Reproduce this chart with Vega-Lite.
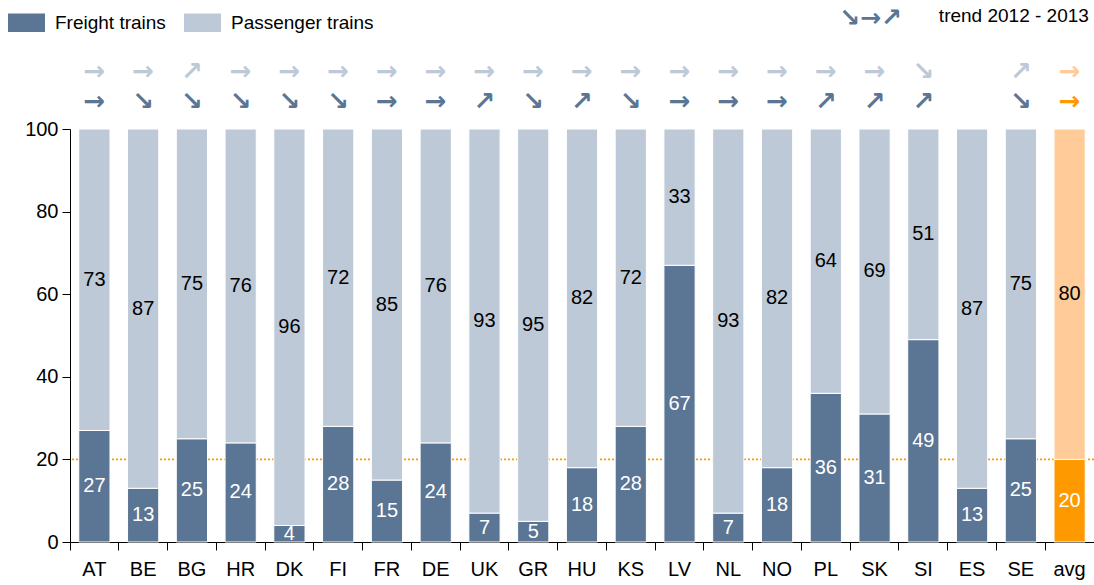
{
  "$schema": "https://vega.github.io/schema/vega-lite/v6.json",
  "width": 1024,
  "height": 413,
  "autosize": {"type": "none"},
  "padding": {"left": 70, "top": 129, "right": 0, "bottom": 43},
  "background": "white",
  "config": {
    "view": {"stroke": null},
    "font": "Liberation Sans",
    "scale": {"bandPaddingInner": 0, "bandPaddingOuter": 0},
    "axis": {"labelFont": "Liberation Sans", "labelFontSize": 20, "labelColor": "#000", "domainColor": "#000", "tickColor": "#000", "tickSize": 8, "grid": false},
    "axisX": {"bandPosition": 0, "labelAngle": 0, "labelPadding": 9},
    "axisY": {"labelPadding": 4}
  },
  "datasets": {
    "shares": [
      {"country": "AT", "type": "Freight", "series": "Freight trains", "share": 27, "trend": "→"},
      {"country": "AT", "type": "Passenger", "series": "Passenger trains", "share": 73, "trend": "→"},
      {"country": "BE", "type": "Freight", "series": "Freight trains", "share": 13, "trend": "↘"},
      {"country": "BE", "type": "Passenger", "series": "Passenger trains", "share": 87, "trend": "→"},
      {"country": "BG", "type": "Freight", "series": "Freight trains", "share": 25, "trend": "↘"},
      {"country": "BG", "type": "Passenger", "series": "Passenger trains", "share": 75, "trend": "↗"},
      {"country": "HR", "type": "Freight", "series": "Freight trains", "share": 24, "trend": "↘"},
      {"country": "HR", "type": "Passenger", "series": "Passenger trains", "share": 76, "trend": "→"},
      {"country": "DK", "type": "Freight", "series": "Freight trains", "share": 4, "trend": "↘"},
      {"country": "DK", "type": "Passenger", "series": "Passenger trains", "share": 96, "trend": "→"},
      {"country": "FI", "type": "Freight", "series": "Freight trains", "share": 28, "trend": "↘"},
      {"country": "FI", "type": "Passenger", "series": "Passenger trains", "share": 72, "trend": "→"},
      {"country": "FR", "type": "Freight", "series": "Freight trains", "share": 15, "trend": "→"},
      {"country": "FR", "type": "Passenger", "series": "Passenger trains", "share": 85, "trend": "→"},
      {"country": "DE", "type": "Freight", "series": "Freight trains", "share": 24, "trend": "→"},
      {"country": "DE", "type": "Passenger", "series": "Passenger trains", "share": 76, "trend": "→"},
      {"country": "UK", "type": "Freight", "series": "Freight trains", "share": 7, "trend": "↗"},
      {"country": "UK", "type": "Passenger", "series": "Passenger trains", "share": 93, "trend": "→"},
      {"country": "GR", "type": "Freight", "series": "Freight trains", "share": 5, "trend": "↘"},
      {"country": "GR", "type": "Passenger", "series": "Passenger trains", "share": 95, "trend": "→"},
      {"country": "HU", "type": "Freight", "series": "Freight trains", "share": 18, "trend": "↗"},
      {"country": "HU", "type": "Passenger", "series": "Passenger trains", "share": 82, "trend": "→"},
      {"country": "KS", "type": "Freight", "series": "Freight trains", "share": 28, "trend": "↘"},
      {"country": "KS", "type": "Passenger", "series": "Passenger trains", "share": 72, "trend": "→"},
      {"country": "LV", "type": "Freight", "series": "Freight trains", "share": 67, "trend": "→"},
      {"country": "LV", "type": "Passenger", "series": "Passenger trains", "share": 33, "trend": "→"},
      {"country": "NL", "type": "Freight", "series": "Freight trains", "share": 7, "trend": "→"},
      {"country": "NL", "type": "Passenger", "series": "Passenger trains", "share": 93, "trend": "→"},
      {"country": "NO", "type": "Freight", "series": "Freight trains", "share": 18, "trend": "→"},
      {"country": "NO", "type": "Passenger", "series": "Passenger trains", "share": 82, "trend": "→"},
      {"country": "PL", "type": "Freight", "series": "Freight trains", "share": 36, "trend": "↗"},
      {"country": "PL", "type": "Passenger", "series": "Passenger trains", "share": 64, "trend": "→"},
      {"country": "SK", "type": "Freight", "series": "Freight trains", "share": 31, "trend": "↗"},
      {"country": "SK", "type": "Passenger", "series": "Passenger trains", "share": 69, "trend": "→"},
      {"country": "SI", "type": "Freight", "series": "Freight trains", "share": 49, "trend": "↗"},
      {"country": "SI", "type": "Passenger", "series": "Passenger trains", "share": 51, "trend": "↘"},
      {"country": "ES", "type": "Freight", "series": "Freight trains", "share": 13, "trend": ""},
      {"country": "ES", "type": "Passenger", "series": "Passenger trains", "share": 87, "trend": ""},
      {"country": "SE", "type": "Freight", "series": "Freight trains", "share": 25, "trend": "↘"},
      {"country": "SE", "type": "Passenger", "series": "Passenger trains", "share": 75, "trend": "↗"},
      {"country": "avg", "type": "Freight", "series": "Average freight", "share": 20, "trend": "→"},
      {"country": "avg", "type": "Passenger", "series": "Average passenger", "share": 80, "trend": "→"}
    ]
  },
  "data": {"name": "shares"},
  "layer": [
    {
      "transform": [{"filter": "datum.country === 'avg' && datum.type === 'Freight'"}],
      "mark": {"type": "rule", "color": "#FF9900", "strokeDash": [2, 2], "strokeWidth": 1.6},
      "encoding": {"y": {"field": "share", "type": "quantitative", "title": null}}
    },
    {
      "mark": {"type": "bar", "width": {"band": 0.64}, "stroke": "white", "strokeWidth": 1},
      "encoding": {
        "x": {"field": "country", "type": "nominal", "sort": null, "title": null},
        "y": {"field": "share", "type": "quantitative", "stack": "zero", "title": null, "scale": {"domain": [0, 100], "nice": false}, "axis": {"values": [0, 20, 40, 60, 80, 100]}},
        "order": {"field": "type", "type": "ordinal", "sort": "ascending"},
        "color": {
          "field": "series", "type": "nominal",
          "scale": {"domain": ["Freight trains", "Passenger trains", "Average freight", "Average passenger"], "range": ["#5B7594", "#BDC9D7", "#FF9900", "#FFCC99"]},
          "legend": {"values": ["Freight trains", "Passenger trains"], "orient": "none", "legendX": -62, "legendY": -125, "direction": "horizontal", "title": null, "symbolType": "M-1,-0.5H1V0.5H-1Z", "symbolSize": 1369, "symbolStrokeWidth": 0, "symbolOpacity": 1, "labelFont": "Liberation Sans", "labelFontSize": 19, "labelColor": "#000", "labelOffset": 10, "columnPadding": 18}
        }
      }
    },
    {
      "transform": [
        {"stack": "share", "groupby": ["country"], "sort": [{"field": "type", "order": "ascending"}], "as": ["s0", "s1"]},
        {"calculate": "(datum.s0 + datum.s1) / 2", "as": "mid"}
      ],
      "mark": {"type": "text", "font": "Liberation Sans", "fontSize": 20, "baseline": "middle"},
      "encoding": {
        "x": {"field": "country", "type": "nominal", "sort": null, "title": null},
        "y": {"field": "mid", "type": "quantitative", "title": null},
        "text": {"field": "share", "type": "quantitative"},
        "color": {"condition": {"test": "datum.type === 'Freight'", "value": "white"}, "value": "black"}
      }
    },
    {
      "transform": [{"filter": "datum.type === 'Passenger'"}],
      "mark": {"type": "text", "font": "DejaVu Sans", "fontSize": 26, "fontWeight": "bold", "baseline": "middle"},
      "encoding": {
        "x": {"field": "country", "type": "nominal", "sort": null, "title": null},
        "y": {"datum": 113.8},
        "text": {"field": "trend"},
        "color": {"field": "series", "type": "nominal"}
      }
    },
    {
      "transform": [{"filter": "datum.type === 'Freight'"}],
      "mark": {"type": "text", "font": "DejaVu Sans", "fontSize": 26, "fontWeight": "bold", "baseline": "middle"},
      "encoding": {
        "x": {"field": "country", "type": "nominal", "sort": null, "title": null},
        "y": {"datum": 106.5},
        "text": {"field": "trend"},
        "color": {"field": "series", "type": "nominal"}
      }
    },
    {
      "data": {"values": [{"label": "↘→↗"}]},
      "mark": {"type": "text", "font": "DejaVu Sans", "fontSize": 25, "fontWeight": "bold", "baseline": "middle", "color": "#5B7594", "dx": -4},
      "encoding": {
        "x": {"datum": "SK"},
        "y": {"datum": 126.8},
        "text": {"field": "label"}
      }
    },
    {
      "data": {"values": [{"label": "trend 2012 - 2013"}]},
      "mark": {"type": "text", "font": "Liberation Sans", "fontSize": 19, "baseline": "middle", "color": "#000", "dx": -7},
      "encoding": {
        "x": {"datum": "SE"},
        "y": {"datum": 127.4},
        "text": {"field": "label"}
      }
    }
  ]
}
